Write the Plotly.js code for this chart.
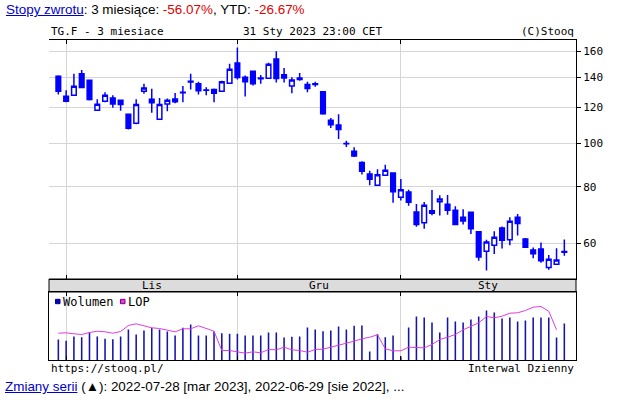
<!DOCTYPE html>
<html><head><meta charset="utf-8">
<script src="https://cdn.plot.ly/plotly-3.0.1.min.js"></script>
<style>
body{margin:0;background:#fff;}
#wrap{position:relative;width:621px;height:405px;overflow:hidden;background:#fff;}
#chart{position:absolute;left:0;top:0;width:621px;height:405px;}
.line{position:absolute;left:6px;font:13.45px "Liberation Sans",Arial,sans-serif;color:#000;white-space:nowrap;z-index:2;line-height:15px;}
.lnk{color:#0000cc;text-decoration:underline;}
.red{color:#dd0000;}
</style></head><body>
<div id="wrap">
<div id="chart"></div>
<div class="line" style="top:2px"><span class="lnk">Stopy zwrotu</span>: 3 miesiące: <span class="red">-56.07%</span>, YTD: <span class="red">-26.67%</span></div>
<div class="line" style="top:379px;left:5px"><span class="lnk">Zmiany serii</span> (▲): 2022-07-28 [mar 2023], 2022-06-29 [sie 2022], ...</div>
</div>
<script>
const dates = ['2022-10-31',
 '2022-11-01','2022-11-02','2022-11-03','2022-11-04','2022-11-07','2022-11-08','2022-11-09','2022-11-10','2022-11-11',
 '2022-11-14','2022-11-15','2022-11-16','2022-11-17','2022-11-18','2022-11-21','2022-11-22','2022-11-23','2022-11-24','2022-11-25',
 '2022-11-28','2022-11-29','2022-11-30',
 '2022-12-01','2022-12-02','2022-12-05','2022-12-06','2022-12-07','2022-12-08','2022-12-09','2022-12-12','2022-12-13','2022-12-14',
 '2022-12-15','2022-12-16','2022-12-19','2022-12-20','2022-12-21','2022-12-22','2022-12-23','2022-12-27','2022-12-28','2022-12-29','2022-12-30',
 '2023-01-02','2023-01-03','2023-01-04','2023-01-05','2023-01-06','2023-01-09','2023-01-10','2023-01-11','2023-01-12','2023-01-13',
 '2023-01-16','2023-01-17','2023-01-18','2023-01-19','2023-01-20','2023-01-23','2023-01-24','2023-01-25','2023-01-26','2023-01-27',
 '2023-01-30','2023-01-31'];
const open  = [140.8,127.1,127.8,142.5,138.0,118.3,123.9,125.9,124.6,116.0,110.8,130.4,125.2,113.0,122.1,125.4,129.4,137.3,135.4,131.0,131.6,130.4,135.9,150.7,140.1,144.5,139.5,139.4,153.8,141.8,134.0,139.6,135.0,135.0,130.0,112.5,109.8,99.9,96.0,90.6,85.5,80.7,84.9,85.9,75.9,78.0,70.4,66.6,69.9,74.2,73.2,71.0,68.5,70.3,63.6,57.6,59.4,64.9,61.1,68.5,61.3,58.0,58.3,53.0,53.9,57.5];
const high  = [141.5,131.1,142.5,145.4,138.4,125.2,129.8,127.8,124.9,116.3,125.2,135.4,132.0,125.9,125.6,129.3,134.0,142.5,136.8,133.1,132.3,137.6,150.0,163.1,141.4,144.8,141.6,150.9,160.0,146.9,140.0,143.2,136.8,136.9,130.3,113.8,116.0,101.3,98.0,91.2,86.9,87.6,89.6,86.2,83.3,78.9,73.3,74.1,78.8,76.7,76.8,72.5,71.4,70.6,63.8,61.1,63.8,65.4,68.5,69.7,61.6,58.7,60.2,56.5,58.5,61.2];
const low   = [128.3,123.3,127.5,132.6,124.3,118.1,123.2,119.9,118.1,107.2,110.2,128.8,116.9,112.8,117.8,122.7,123.3,131.6,128.2,127.7,123.3,130.2,135.6,138.5,126.9,134.2,135.5,139.2,136.4,136.4,129.0,137.6,129.8,133.5,115.6,108.1,102.2,98.1,93.2,85.2,80.7,80.5,84.7,73.8,74.6,72.7,65.3,64.6,69.2,69.1,69.4,65.8,66.0,62.9,54.9,52.2,56.8,58.4,59.4,62.4,58.6,55.6,54.3,52.4,53.8,56.3];
const close = [130.4,123.9,133.8,133.0,125.0,122.0,127.8,122.2,121.9,107.9,121.9,132.6,123.0,121.9,124.6,123.6,129.8,136.7,130.8,131.2,129.1,136.9,145.9,139.9,136.9,135.5,139.0,149.7,139.2,139.6,138.1,138.4,132.2,135.4,116.2,109.9,107.2,99.7,93.7,86.7,83.2,85.1,87.1,78.1,78.9,74.0,66.0,72.9,70.8,75.2,71.0,66.0,67.2,64.6,55.9,60.4,61.9,60.9,67.1,66.4,58.8,56.9,54.9,55.3,55.1,57.3];
const volume = [20.5,19.2,23.5,22.8,27.5,23.5,21.2,20.8,23.5,30.5,25.5,29.5,32.2,30.5,28.5,24.5,32.2,35.5,24.5,24.5,28.5,26.8,26.2,26.2,24.5,24.5,24.5,27.5,27.5,22.5,23.2,23.5,32.5,30.5,28.8,29.5,33.5,30.5,34.2,34.5,8.5,25.8,22.8,24.5,3.5,32.5,43.5,42.5,37.5,27.5,42.5,38.5,37.5,40.5,43.5,49.5,47.5,41.5,42.5,38.5,39.5,42.5,42.5,42.5,22.5,36.5];
const lop = [26.8,27.2,26.2,25.5,27.5,28.8,28.2,26.8,28.5,34.5,36.2,34.5,32.2,31.5,29.5,28.2,31.2,31.2,34.2,31.5,28.8,9.5,9.5,8.2,6.8,8.2,7.2,10.5,10.2,12.8,10.2,9.5,7.8,10.5,10.8,12.8,14.8,16.2,18.8,21.2,22.8,25.2,11.2,9.2,9.2,12.8,12.8,12.2,15.5,20.5,22.8,25.5,30.2,33.5,37.2,43.5,42.2,43.8,46.8,47.2,49.5,52.8,53.5,48.8,30.2,null];
const priceTicks = [60,80,100,120,140,160];
const gridDates = ['2022-11-01','2022-12-01','2023-01-02'];
const months = ['Lis','Gru','Sty'];
const monthPos = [12, 33.5, 55.25];

const BLUE = '#0000ff';
const mono = 'DejaVu Sans Mono, monospace';
const GRID = '#d6d6d6';
const xr = [-1.2, 66.5];
const yr = [Math.log10(49.99), Math.log10(169.4)];

const traces = [
  {type:'candlestick', x:dates, open:open, high:high, low:low, close:close, xaxis:'x', yaxis:'y',
   increasing:{line:{color:BLUE,width:1.5}, fillcolor:'#ffffff'},
   decreasing:{line:{color:BLUE,width:1.5}, fillcolor:BLUE},
   whiskerwidth:0, hoverinfo:'skip', showlegend:false},
  {type:'bar', x:dates, y:volume, xaxis:'x2', yaxis:'y2', width:0.2,
   marker:{color:'#1414a8', line:{width:0}}, hoverinfo:'skip', showlegend:false},
  {type:'scatter', mode:'lines', x:dates, y:lop, xaxis:'x2', yaxis:'y4',
   line:{color:'#e03ce0', width:1}, hoverinfo:'skip', showlegend:false}
];

const ann = [
  {text:'TG.F - 3 miesiace', xref:'paper', yref:'paper', x:0, y:1.0266, xanchor:'left', yanchor:'middle', showarrow:false, font:{family:mono,size:11,color:'#000'}},
  {text:'31 Sty 2023 23:00 CET', xref:'paper', yref:'paper', x:0.5, y:1.0266, xanchor:'center', yanchor:'middle', showarrow:false, font:{family:mono,size:11,color:'#000'}},
  {text:'(C)Stooq', xref:'paper', yref:'paper', x:1, y:1.0266, xanchor:'right', yanchor:'middle', showarrow:false, font:{family:mono,size:11,color:'#000'}},
  {text:'https://stooq.pl/', xref:'paper', yref:'paper', x:0, y:-0.025, xanchor:'left', yanchor:'middle', showarrow:false, font:{family:mono,size:11,color:'#000'}},
  {text:'Interwal Dzienny', xref:'paper', yref:'paper', x:1, y:-0.025, xanchor:'right', yanchor:'middle', showarrow:false, font:{family:mono,size:11,color:'#000'}},
  {text:'Wolumen', xref:'paper', yref:'paper', x:(60.5-49)/527, y:(360-301.5)/320, xanchor:'left', yanchor:'middle', showarrow:false, font:{family:mono,size:12,color:'#000'}},
  {text:'LOP', xref:'paper', yref:'paper', x:(125.5-49)/527, y:(360-301.5)/320, xanchor:'left', yanchor:'middle', showarrow:false, font:{family:mono,size:12,color:'#000'}}
];
months.forEach((m,i)=>ann.push({text:m, xref:'x', yref:'paper', x:monthPos[i], y:(360-285.5)/320, xanchor:'center', yanchor:'middle', showarrow:false, font:{family:mono,size:11,color:'#000'}}));

const px = v => (v-49)/527, py = v => (360-v)/320;
const shapes = [
  {type:'rect', xref:'paper', yref:'paper', x0:0, x1:1, y0:0.2125, y1:0.2531, fillcolor:'#dcdcdc', line:{color:'#000',width:1}, layer:'below'},
  {type:'rect', xref:'paper', yref:'paper', x0:px(55.5), x1:px(60), y0:py(303.7), y1:py(299.3), fillcolor:'#0000cc', line:{color:'#000080',width:1}},
  {type:'rect', xref:'paper', yref:'paper', x0:px(120.5), x1:px(125), y0:py(303.7), y1:py(299.3), fillcolor:'#e03ce0', line:{color:'#800080',width:1}}
];

const xbase = {type:'category', range:xr, tickvals:gridDates, showticklabels:false, ticks:'inside', ticklen:4, tickcolor:'#000',
  showgrid:true, gridcolor:GRID, gridwidth:1, showline:true, linecolor:'#000', linewidth:1, mirror:'ticks', zeroline:false,
  fixedrange:true, rangeslider:{visible:false}};

const layout = {
  width:621, height:405, margin:{l:49, r:45, t:40, b:45},
  paper_bgcolor:'#ffffff', plot_bgcolor:'#ffffff', showlegend:false, hovermode:false,
  boxgap:0.3, boxgroupgap:0.15,
  xaxis: Object.assign({}, xbase, {anchor:'y', domain:[0,1]}),
  xaxis2: Object.assign({}, xbase, {anchor:'y2', domain:[0,1]}),
  yaxis: {domain:[0.2531,1], anchor:'x', type:'log', range:yr, side:'right', tickvals:priceTicks, ticktext:priceTicks.map(String),
    ticks:'outside', ticklen:4, tickcolor:'#000', showgrid:true, gridcolor:GRID, showline:true, linecolor:'#000', zeroline:false,
    tickfont:{family:mono,size:11,color:'#000'}, fixedrange:true},
  yaxis3: {overlaying:'y', anchor:'x', side:'left', type:'log', range:yr, tickvals:priceTicks, showticklabels:false,
    ticks:'inside', ticklen:4, tickcolor:'#000', showgrid:false, showline:true, linecolor:'#000', zeroline:false, fixedrange:true},
  yaxis2: {domain:[0,0.2125], anchor:'x2', range:[0,68], showticklabels:false, ticks:'', showgrid:false,
    showline:true, linecolor:'#000', mirror:true, zeroline:false, fixedrange:true},
  yaxis4: {overlaying:'y2', anchor:'x2', range:[0,68], visible:false, fixedrange:true},
  annotations: ann, shapes: shapes
};
Plotly.newPlot('chart', traces, layout, {staticPlot:true, displayModeBar:false});
</script>
</body></html>
